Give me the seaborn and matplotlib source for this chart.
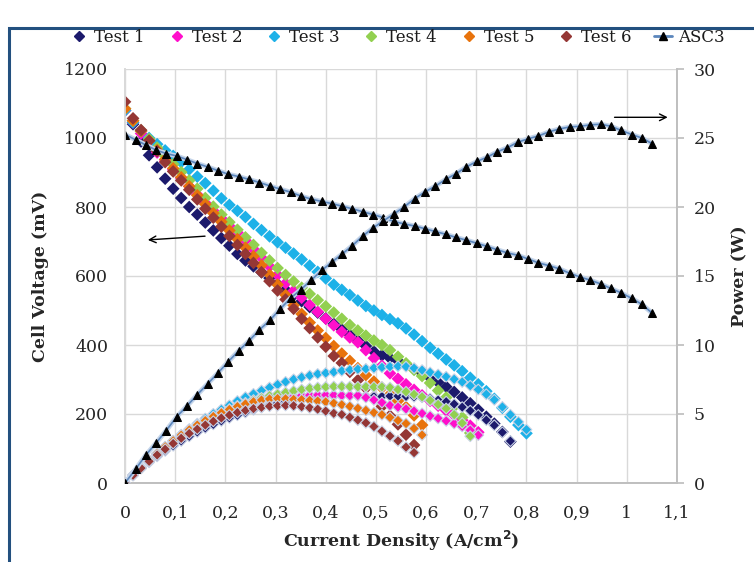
import pandas as pd
import matplotlib
matplotlib.use("Agg")
import matplotlib.pyplot as plt
import seaborn as sns
from matplotlib.lines import Line2D
from matplotlib.patches import Rectangle

# ----------------- DATA -----------------
TESTS = ["Test 1", "Test 2", "Test 3", "Test 4", "Test 5", "Test 6"]
COLORS = ["#1C1A6C", "#FF0FCB", "#1DB1E8", "#92D050", "#E8730C", "#953735"]

# current density grid of the test runs (A/cm2)
I_TEST = [0, 0.016, 0.032, 0.048, 0.064, 0.08, 0.096, 0.112, 0.128, 0.144,
          0.16, 0.176, 0.192, 0.208, 0.224, 0.24, 0.256, 0.272, 0.288, 0.304,
          0.32, 0.336, 0.352, 0.368, 0.384, 0.4, 0.416, 0.432, 0.448, 0.464,
          0.48, 0.496, 0.512, 0.528, 0.544, 0.56, 0.576, 0.592, 0.608, 0.624,
          0.64, 0.656, 0.672, 0.688, 0.704, 0.72, 0.736, 0.752, 0.768, 0.784,
          0.8]

# cell voltage (mV)
T1_V = [1080, 1040, 990, 950, 915, 882, 853, 826, 800, 778,
        755, 732, 710, 688, 664, 645, 628, 611, 594, 577,
        560, 544, 527, 510, 494, 477, 461, 445, 429, 413,
        397, 381, 370, 362, 354, 343, 330, 318, 305, 292,
        279, 264, 248, 231, 212, 192, 172, 148, 120]
T2_V = [1080, 1045, 1013, 985, 958, 933, 908, 884, 860, 836,
        812, 789, 767, 745, 726, 703, 678, 653, 628, 603,
        579, 557, 537, 516, 496, 476, 457, 438, 422, 408,
        385, 362, 340, 318, 302, 286, 270, 254, 238, 224,
        210, 196, 182, 166, 147]
T3_V = [1080, 1045, 1020, 1000, 982, 964, 948, 930, 909, 888,
        869, 847, 825, 806, 789, 771, 751, 733, 715, 698,
        682, 665, 648, 630, 612, 593, 575, 560, 545, 529,
        513, 500, 487, 475, 463, 448, 430, 411, 392, 375,
        358, 341, 324, 305, 286, 266, 244, 218, 192, 168,
        144]
T4_V = [1085, 1050, 1022, 997, 972, 948, 924, 901, 877, 853,
        826, 801, 778, 756, 734, 712, 690, 667, 645, 623,
        603, 584, 566, 548, 530, 512, 494, 476, 458, 442,
        427, 413, 400, 385, 366, 347, 328, 310, 290, 268,
        248, 222, 190, 145]
T5_V = [1085, 1050, 1020, 992, 965, 938, 912, 886, 860, 834,
        808, 782, 757, 732, 707, 682, 657, 631, 604, 575,
        545, 515, 490, 465, 442, 420, 397, 375, 354, 333,
        313, 294, 276, 257, 238, 220, 196, 168]
T6_V = [1105, 1057, 1023, 992, 962, 930, 903, 877, 850, 822,
        795, 769, 743, 716, 690, 664, 638, 611, 585, 558,
        532, 505, 476, 449, 422, 395, 368, 348, 322, 298,
        275, 250, 222, 195, 170, 140, 110]

# power (W)
T1_P = [0, 0.55, 1.05, 1.5, 1.93, 2.33, 2.7, 3.05, 3.38, 3.7,
        3.99, 4.25, 4.5, 4.72, 4.91, 5.11, 5.31, 5.48, 5.65, 5.79,
        5.91, 6.03, 6.12, 6.19, 6.26, 6.3, 6.33, 6.34, 6.34, 6.32,
        6.29, 6.26, 6.27, 6.3, 6.3, 6.28, 6.25, 6.21, 6.12, 6.01,
        5.89, 5.72, 5.5, 5.24, 4.93, 4.56, 4.18, 3.67, 3.04]
T2_P = [0, 0.56, 1.09, 1.58, 2.05, 2.5, 2.92, 3.32, 3.69, 4.03,
        4.35, 4.65, 4.93, 5.19, 5.45, 5.65, 5.81, 5.95, 6.06, 6.14,
        6.21, 6.27, 6.34, 6.36, 6.38, 6.38, 6.37, 6.34, 6.33, 6.34,
        6.19, 6.02, 5.83, 5.62, 5.5, 5.37, 5.21, 5.04, 4.85, 4.68,
        4.5, 4.31, 4.1, 3.83, 3.47]
T3_P = [0, 0.56, 1.1, 1.61, 2.11, 2.59, 3.06, 3.5, 3.91, 4.3,
        4.67, 5.01, 5.32, 5.63, 5.94, 6.22, 6.46, 6.7, 6.92, 7.13,
        7.33, 7.51, 7.66, 7.79, 7.9, 7.97, 8.04, 8.13, 8.2, 8.25,
        8.27, 8.33, 8.38, 8.43, 8.46, 8.43, 8.32, 8.18, 8.01, 7.86,
        7.7, 7.52, 7.32, 7.05, 6.77, 6.43, 6.03, 5.51, 4.95, 4.43,
        3.87]
T4_P = [0, 0.57, 1.11, 1.63, 2.12, 2.58, 3.02, 3.43, 3.82, 4.18,
        4.49, 4.79, 5.08, 5.35, 5.59, 5.81, 6.01, 6.17, 6.32, 6.44,
        6.56, 6.67, 6.77, 6.86, 6.92, 6.96, 6.99, 6.99, 6.98, 6.97,
        6.97, 6.96, 6.96, 6.91, 6.77, 6.61, 6.42, 6.24, 5.99, 5.69,
        5.4, 4.95, 4.34, 3.39]
T5_P = [0, 0.59, 1.14, 1.67, 2.16, 2.63, 3.06, 3.47, 3.85, 4.2,
        4.52, 4.82, 5.09, 5.33, 5.54, 5.73, 5.89, 6.01, 6.09, 6.12,
        6.1, 6.06, 6.04, 5.99, 5.94, 5.88, 5.78, 5.67, 5.55, 5.41,
        5.26, 5.1, 4.95, 4.75, 4.53, 4.31, 3.95, 3.48]
T6_P = [0, 0.56, 1.08, 1.57, 2.03, 2.45, 2.86, 3.24, 3.59, 3.9,
        4.2, 4.47, 4.71, 4.92, 5.11, 5.26, 5.39, 5.48, 5.56, 5.6,
        5.62, 5.6, 5.53, 5.45, 5.35, 5.21, 5.05, 4.96, 4.76, 4.56,
        4.36, 4.09, 3.75, 3.4, 3.05, 2.6, 2.2]

# ASC3 reference stack
ASC3_I = [0, 0.021, 0.041, 0.062, 0.082, 0.103, 0.124, 0.144, 0.165, 0.186,
          0.206, 0.227, 0.247, 0.268, 0.289, 0.309, 0.33, 0.35, 0.371, 0.392,
          0.412, 0.433, 0.453, 0.474, 0.495, 0.515, 0.536, 0.556, 0.577, 0.598,
          0.618, 0.639, 0.659, 0.68, 0.701, 0.721, 0.742, 0.762, 0.783, 0.804,
          0.824, 0.845, 0.865, 0.886, 0.907, 0.927, 0.948, 0.968, 0.989, 1.01,
          1.03, 1.05]
ASC3_V = [1010, 995, 980, 965, 955, 948, 937, 926, 916, 905,
          895, 888, 880, 871, 861, 852, 843, 832, 823, 816,
          810, 802, 795, 786, 778, 769, 758, 751, 745, 737,
          729, 721, 712, 704, 695, 686, 676, 667, 660, 649,
          638, 630, 621, 608, 597, 588, 577, 564, 551, 535,
          518, 493]
ASC3_P = [0, 1.0, 2.0, 2.9, 3.8, 4.8, 5.6, 6.4, 7.2, 8.0,
          8.8, 9.6, 10.3, 11.1, 11.8, 12.6, 13.4, 14.0, 14.7, 15.4,
          16.0, 16.6, 17.2, 17.9, 18.5, 19.0, 19.5, 20.0, 20.6, 21.1,
          21.5, 22.0, 22.4, 22.9, 23.3, 23.6, 24.0, 24.3, 24.7, 24.95,
          25.15, 25.45, 25.65, 25.8, 25.85, 25.95, 26.0, 25.85, 25.55, 25.25,
          25.0, 24.6]

X_TICKS = [0, 0.1, 0.2, 0.3, 0.4, 0.5, 0.6, 0.7, 0.8, 0.9, 1.0, 1.1]
X_LABELS = ["0", "0,1", "0,2", "0,3", "0,4", "0,5", "0,6", "0,7", "0,8", "0,9", "1", "1,1"]
V_TICKS = [0, 200, 400, 600, 800, 1000, 1200]
P_TICKS = [0, 5, 10, 15, 20, 25, 30]
# -------------------------------------------------------------

V_LISTS = [T1_V, T2_V, T3_V, T4_V, T5_V, T6_V]
P_LISTS = [T1_P, T2_P, T3_P, T4_P, T5_P, T6_P]

rows = []
for name, vs, ps in zip(TESTS, V_LISTS, P_LISTS):
    for i, v, p in zip(I_TEST, vs, ps):
        rows.append({"test": name, "current": i, "voltage": v, "power": p})
df = pd.DataFrame(rows)
asc = pd.DataFrame({"current": ASC3_I, "voltage": ASC3_V, "power": ASC3_P})

sns.set_theme(style="white")
plt.rcParams["font.family"] = ["DejaVu Serif"]
plt.rcParams["text.color"] = "#1a1a1a"

fig = plt.figure(figsize=(7.54, 5.62), dpi=100)
ax = fig.add_axes([125 / 754, 1 - 483 / 562, 552 / 754, 414 / 562])
ax2 = ax.twinx()

palette = dict(zip(TESTS, COLORS))

# voltage curves (left axis)
sns.scatterplot(data=df, x="current", y="voltage", hue="test", palette=palette,
                marker="D", s=42, linewidth=0, legend=False, ax=ax, zorder=3)
# ASC3 voltage
ax.plot(asc["current"], asc["voltage"], color="#C5D5EA", lw=3.5, zorder=4)
sns.lineplot(data=asc, x="current", y="voltage", color="#5B86BC", lw=1.2,
             marker="^", markersize=5.2, markerfacecolor="black",
             markeredgecolor="black", sort=False, estimator=None, ax=ax, zorder=5)

# power curves (right axis)
sns.scatterplot(data=df, x="current", y="power", hue="test", palette=palette,
                marker="D", s=30, linewidth=0.8, edgecolor="#C9D3E6",
                legend=False, ax=ax2, zorder=3)
ax2.plot(asc["current"], asc["power"], color="#C5D5EA", lw=3.5, zorder=4)
sns.lineplot(data=asc, x="current", y="power", color="#5B86BC", lw=1.2,
             marker="^", markersize=5.2, markerfacecolor="black",
             markeredgecolor="black", sort=False, estimator=None, ax=ax2, zorder=5)

# axes
ax.set_xlim(0, 1.1)
ax.set_ylim(0, 1200)
ax2.set_ylim(0, 30)
ax.set_xticks(X_TICKS)
ax.set_xticklabels(X_LABELS)
ax.set_yticks(V_TICKS)
ax2.set_yticks(P_TICKS)
ax.grid(True, color="#D9D9D9", lw=1)
ax2.grid(False)
ax.set_axisbelow(True)

for a in (ax, ax2):
    a.spines["top"].set_visible(False)
    a.spines["left"].set_color("#D9D9D9")
    a.spines["bottom"].set_color("#BFBFBF")
    a.spines["right"].set_color("#BFBFBF")

ax.tick_params(axis="x", length=0, pad=16, labelsize=12.5)
ax.tick_params(axis="y", length=0, pad=12, labelsize=12.5)
ax2.tick_params(axis="y", length=5, color="#BFBFBF", pad=7, labelsize=12.5, right=True)

ax.set_xlabel("Current Density (A/cm$\\mathbf{^2}$)", fontsize=12.5, fontweight="bold", labelpad=5)
ax.set_ylabel("Cell Voltage (mV)", fontsize=12.5, fontweight="bold", labelpad=11)
ax2.set_ylabel("Power (W)", fontsize=12.5, fontweight="bold", labelpad=11)

# arrows pointing at the relevant axis
ax.annotate("", xy=(0.04, 704), xytext=(0.165, 716),
            arrowprops=dict(arrowstyle="->", color="black", lw=1))
ax2.annotate("", xy=(1.087, 26.5), xytext=(0.97, 26.5),
             arrowprops=dict(arrowstyle="->", color="black", lw=1))

# legend
handles = [Line2D([], [], ls="none", marker="D", markersize=5, color=c) for c in COLORS]
handles.append(Line2D([], [], color="#5B86BC", lw=2, marker="^", markersize=5.5,
                      markerfacecolor="black", markeredgecolor="black"))
fig.legend(handles, TESTS + ["ASC3"], loc="center", bbox_to_anchor=(0.527, 0.934),
           ncol=7, frameon=False, fontsize=12, handlelength=1.1,
           handletextpad=0.35, columnspacing=1.35)

# outer frame of the chart
fig.patches.append(Rectangle((9 / 754, -0.1), 1.2, 1.075 - 14 / 562,
                             transform=fig.transFigure, fill=False,
                             ec="#23507F", lw=2.2))

fig.savefig("out.png", dpi=100)
